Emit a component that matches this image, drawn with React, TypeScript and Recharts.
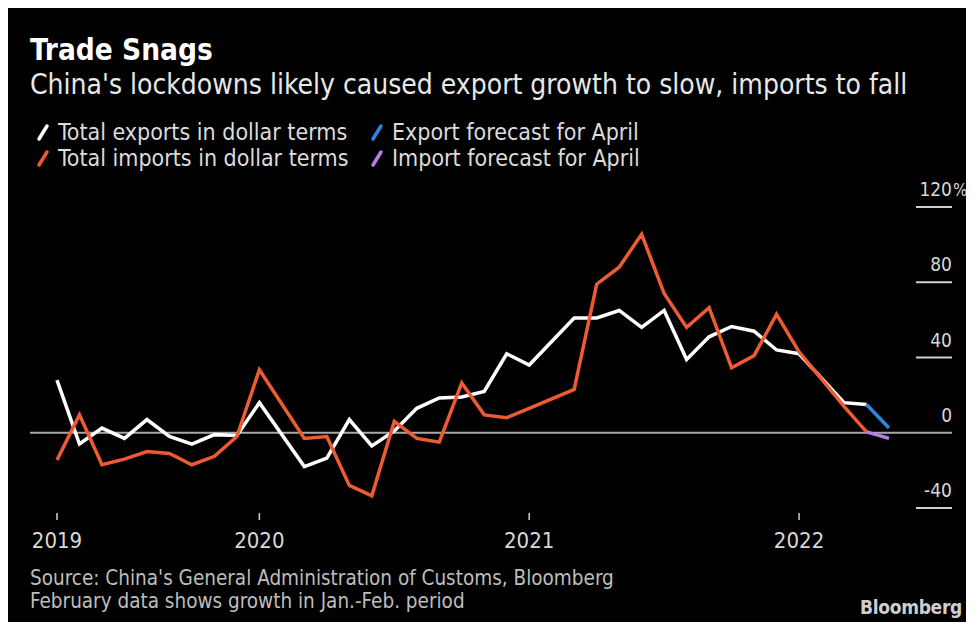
import React from "react";
import { LineChart, Line, XAxis, YAxis, ReferenceLine } from "recharts";

const FONT = '"DejaVu Sans Condensed", "Liberation Sans Narrow", "DejaVu Sans", sans-serif';

// months shown (Jan is folded into the Jan.-Feb. figure)
const months = [
  "2019-03", "2019-04", "2019-05", "2019-06", "2019-07", "2019-08", "2019-09", "2019-10", "2019-11", "2019-12",
  "2020-02", "2020-03", "2020-04", "2020-05", "2020-06", "2020-07", "2020-08", "2020-09", "2020-10", "2020-11", "2020-12",
  "2021-02", "2021-03", "2021-04", "2021-05", "2021-06", "2021-07", "2021-08", "2021-09", "2021-10", "2021-11", "2021-12",
  "2022-02", "2022-03", "2022-04",
];

const exportsGrowth = [
  28, -6, 2.5, -3, 7, -2, -6, -1, -1.5, 16,
  -18, -13.5, 7, -7, 1, 13, 18.5, 19, 22, 42, 36,
  61, 61, 65, 56, 65, 39, 51, 56.5, 54, 44, 42,
  16, 15, null,
];

const importsGrowth = [
  -14.5, 9.5, -17, -14, -10, -11, -17, -12.5, -2, 33.5,
  -3, -2, -28, -33.5, 6, -3, -5, 26.5, 9.5, 8, 13,
  23, 79, 88, 105.5, 74, 56, 66.5, 34.5, 41, 63, 43,
  14, 0.5, null,
];

const exportForecast = [
  null, null, null, null, null, null, null, null, null, null,
  null, null, null, null, null, null, null, null, null, null, null,
  null, null, null, null, null, null, null, null, null, null, null,
  null, 15, 2.5,
];

const importForecast = [
  null, null, null, null, null, null, null, null, null, null,
  null, null, null, null, null, null, null, null, null, null, null,
  null, null, null, null, null, null, null, null, null, null, null,
  null, 0.5, -3,
];

const yearTicks = [3, 12, 24, 36];
const yearLabels = ["2019", "2020", "2021", "2022"];
const yTicks = [-40, 0, 40, 80, 120];

const legendItems = [
  { label: "Total exports in dollar terms", color: "#ffffff" },
  { label: "Export forecast for April", color: "#2f86e0" },
  { label: "Total imports in dollar terms", color: "#ee5a32" },
  { label: "Import forecast for April", color: "#b77fe6" },
];

// month index at end of month, counted from Jan 2019
const toIndex = (s: string) => {
  const [y, m] = s.split("-").map(Number);
  return (y - 2019) * 12 + m;
};

const data = months.map((s, i) => ({
  m: toIndex(s),
  exports: exportsGrowth[i],
  imports: importsGrowth[i],
  expF: exportForecast[i],
  impF: importForecast[i],
}));

const YTick = (props: any) => {
  const { y, payload } = props;
  const v = payload.value;
  return (
    <g>
      {v !== 0 && <line x1={908} x2={944} y1={y} y2={y} stroke="#d0d0d0" strokeWidth={2} />}
      <text x={944} y={y - 11} textAnchor="end" fill="#d8d8d8" fontSize={19} fontFamily={FONT}>
        {v}
      </text>
      {v === 120 && (
        <text x={945} y={y - 11} textAnchor="start" fill="#d8d8d8" fontSize={17} fontFamily={FONT}>
          %
        </text>
      )}
    </g>
  );
};

const XTick = (props: any) => {
  const { x, payload } = props;
  const base = 502;
  const idx = yearTicks.indexOf(payload.value);
  return (
    <g>
      <line x1={x} x2={x} y1={base + 5} y2={base + 12} stroke="#cfcfcf" strokeWidth={1.5} />
      <text x={x} y={base + 40} textAnchor="middle" fill="#d8d8d8" fontSize={22} fontFamily={FONT}>
        {yearLabels[idx]}
      </text>
    </g>
  );
};

const Slash = ({ color }: { color: string }) => (
  <svg width={14} height={20} style={{ display: "block" }}>
    <line x1={3} y1={17} x2={11} y2={4} stroke={color} strokeWidth={3.5} strokeLinecap="round" />
  </svg>
);

export default function App() {
  return (
    <div
      style={{
        position: "relative",
        width: 966,
        height: 616,
        marginTop: -2,
        background: "#000",
        fontFamily: FONT,
        overflow: "hidden",
      }}
    >
      <div style={{ position: "absolute", left: 22, top: 27, color: "#fff", fontSize: 29.5, fontWeight: "bold" }}>
        Trade Snags
      </div>
      <div style={{ position: "absolute", left: 22, top: 62, color: "#e8e8e8", fontSize: 28 }}>
        China's lockdowns likely caused export growth to slow, imports to fall
      </div>

      {legendItems.map((it, i) => (
        <div
          key={it.label}
          style={{
            position: "absolute",
            left: i % 2 === 0 ? 28 : 362,
            top: i < 2 ? 113 : 139,
            height: 26,
            display: "flex",
            alignItems: "center",
            color: "#dcdcdc",
            fontSize: 23,
            lineHeight: "26px",
            whiteSpace: "nowrap",
          }}
        >
          <Slash color={it.color} />
          <span style={{ marginLeft: 8 }}>{it.label}</span>
        </div>
      ))}

      <div style={{ position: "absolute", left: 22, top: 561, color: "#bdbdbd", fontSize: 20.5, lineHeight: "23px" }}>
        <div>Source: China's General Administration of Customs, Bloomberg</div>
        <div>February data shows growth in Jan.-Feb. period</div>
      </div>
      <div
        style={{
          position: "absolute",
          left: 852,
          top: 590,
          color: "#cfcfcf",
          fontSize: 19,
          fontWeight: "bold",
          fontFamily: '"Liberation Sans Narrow", "DejaVu Sans Condensed", sans-serif',
          letterSpacing: -0.3,
        }}
      >
        Bloomberg
      </div>

      <div style={{ position: "absolute", left: 0, top: 0 }}>
        <LineChart width={966} height={616} data={data} margin={{ top: 201, right: 25, bottom: 84, left: 49 }}>
          <XAxis
            dataKey="m"
            type="number"
            domain={[3, 40]}
            ticks={yearTicks}
            axisLine={false}
            tickLine={false}
            height={30}
            tick={<XTick />}
            interval={0}
          />
          <YAxis
            orientation="right"
            type="number"
            domain={[-40, 120]}
            ticks={yTicks}
            axisLine={false}
            tickLine={false}
            width={60}
            tick={<YTick />}
            interval={0}
          />
          <ReferenceLine
            segment={[{ x: 1.8, y: 0 }, { x: 42.8, y: 0 }]}
            ifOverflow="visible"
            stroke="#a8a8a8"
            strokeWidth={2}
          />
          <Line dataKey="exports" stroke="#ffffff" strokeWidth={3.5} dot={false} isAnimationActive={false} strokeLinejoin="miter" />
          <Line dataKey="imports" stroke="#ee5a32" strokeWidth={3.5} dot={false} isAnimationActive={false} strokeLinejoin="miter" />
          <Line dataKey="expF" stroke="#2f86e0" strokeWidth={3.5} dot={false} isAnimationActive={false} />
          <Line dataKey="impF" stroke="#b77fe6" strokeWidth={3.5} dot={false} isAnimationActive={false} />
        </LineChart>
      </div>
    </div>
  );
}
